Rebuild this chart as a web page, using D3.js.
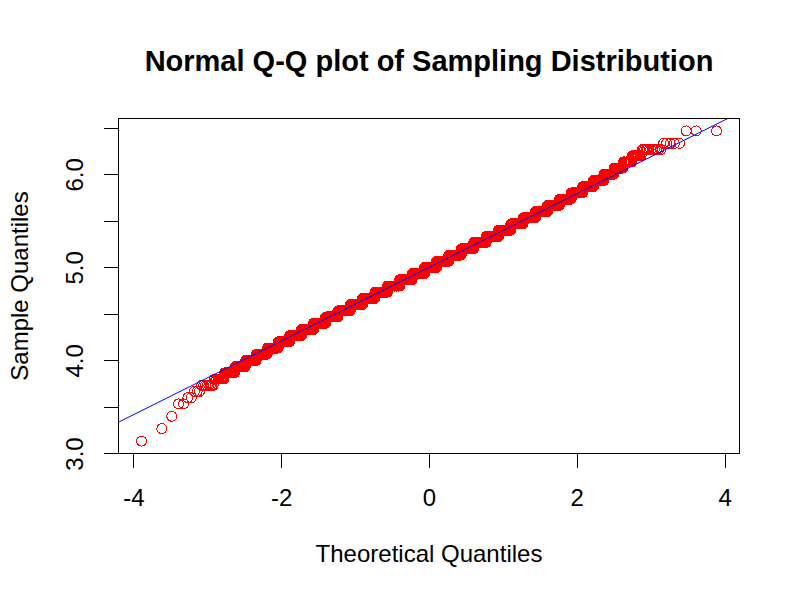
<!DOCTYPE html>
<html>
<head>
<meta charset="utf-8">
<script src="https://cdn.jsdelivr.net/npm/d3@7"></script>
<style>
  html, body { margin: 0; padding: 0; background: #ffffff; }
  svg { display: block; }
  text { font-family: "Liberation Sans", Arial, Helvetica, sans-serif; fill: #000; }
</style>
</head>
<body>
<svg id="chart" width="800" height="600"></svg>
<script>
// ---------------- data ----------------
const titleText = "Normal Q-Q plot of Sampling Distribution";
const xLabel = "Theoretical Quantiles";
const yLabel = "Sample Quantiles";

// distinct sample values (the sampling distribution is discrete, step ~1/15)
const sampleLevels = [
  3.133, 3.267, 3.400, 3.533, 3.600, 3.667, 3.733, 3.800, 3.867, 3.933,
  4.000, 4.067, 4.133, 4.200, 4.267, 4.333, 4.400, 4.467, 4.533, 4.600,
  4.667, 4.733, 4.800, 4.867, 4.933, 5.000, 5.067, 5.133, 5.200, 5.267,
  5.333, 5.400, 5.467, 5.533, 5.600, 5.667, 5.733, 5.800, 5.867, 5.933,
  6.000, 6.067, 6.133, 6.200, 6.267, 6.333, 6.467
];
// how many of the 10000 sample means sit at each level (read from step widths)
const levelCounts = [
  1, 1, 1, 2, 2, 3, 8, 10, 15, 22,
  32, 46, 64, 90, 125, 168, 220, 277, 344, 411,
  480, 544, 596, 635, 655, 660, 648, 625, 587, 529,
  464, 393, 328, 264, 206, 156, 117, 83, 58, 40,
  28, 19, 13, 10, 12, 5, 3
];

const xTicks = [-4, -2, 0, 2, 4];
const xTickLabels = ["-4", "-2", "0", "2", "4"];
const yTicks = [3.0, 3.5, 4.0, 4.5, 5.0, 5.5, 6.0, 6.5];
const yTickLabels = ["3.0", "", "4.0", "", "5.0", "", "6.0", ""];

// ---------------- helpers ----------------
// inverse standard normal CDF (Acklam)
function qnorm(p) {
  const a = [-3.969683028665376e+01, 2.209460984245205e+02, -2.759285104469687e+02,
             1.383577518672690e+02, -3.066479806614716e+01, 2.506628277459239e+00];
  const b = [-5.447609879822406e+01, 1.615858368580409e+02, -1.556989798598866e+02,
             6.680131188771972e+01, -1.328068155288572e+01];
  const c = [-7.784894002430293e-03, -3.223964580411365e-01, -2.400758277161838e+00,
             -2.549732539343734e+00, 4.374664141464968e+00, 2.938163982698783e+00];
  const d = [7.784695709041462e-03, 3.224671290700398e-01, 2.445134137142996e+00,
             3.754408661907416e+00];
  const plow = 0.02425, phigh = 1 - plow;
  let q, r;
  if (p < plow) {
    q = Math.sqrt(-2 * Math.log(p));
    return (((((c[0]*q+c[1])*q+c[2])*q+c[3])*q+c[4])*q+c[5]) /
           ((((d[0]*q+d[1])*q+d[2])*q+d[3])*q+1);
  } else if (p <= phigh) {
    q = p - 0.5; r = q * q;
    return (((((a[0]*r+a[1])*r+a[2])*r+a[3])*r+a[4])*r+a[5])*q /
           (((((b[0]*r+b[1])*r+b[2])*r+b[3])*r+b[4])*r+1);
  } else {
    q = Math.sqrt(-2 * Math.log(1 - p));
    return -(((((c[0]*q+c[1])*q+c[2])*q+c[3])*q+c[4])*q+c[5]) /
            ((((d[0]*q+d[1])*q+d[2])*q+d[3])*q+1);
  }
}

// expand the frequency table into the sorted sample
const sample = [];
sampleLevels.forEach((v, i) => { for (let k = 0; k < levelCounts[i]; k++) sample.push(v); });
const n = sample.length;
const aP = n <= 10 ? 3 / 8 : 0.5;
const points = sample.map((s, i) => ({ t: qnorm((i + 1 - aP) / (n + 1 - 2 * aP)), s: s }));

// ---------------- layout ----------------
const W = 800, H = 600;
const L = 118.5, R = 739.5, T = 118.5, B = 453.5;

const svg = d3.select("#chart");
svg.append("rect").attr("width", W).attr("height", H).attr("fill", "#fff");

function padExtent(ext) { const r = ext[1] - ext[0]; return [ext[0] - 0.04 * r, ext[1] + 0.04 * r]; }
const x = d3.scaleLinear().domain(padExtent(d3.extent(points, d => d.t))).range([L, R]);
const y = d3.scaleLinear().domain(padExtent(d3.extent(points, d => d.s))).range([B, T]);

svg.append("defs").append("clipPath").attr("id", "plotclip")
  .append("rect").attr("x", L).attr("y", T).attr("width", R - L).attr("height", B - T);

// points
svg.append("g")
  .selectAll("circle").data(points).join("circle")
  .attr("cx", d => x(d.t)).attr("cy", d => y(d.s)).attr("r", 5)
  .attr("fill", "none").attr("stroke", "#ff0000").attr("stroke-width", 1)
  .attr("shape-rendering", "crispEdges");

// qq line through the quartiles
const sortedS = points.map(d => d.s);
const q1 = d3.quantileSorted(sortedS, 0.25), q3 = d3.quantileSorted(sortedS, 0.75);
const z1 = qnorm(0.25), z3 = qnorm(0.75);
const slope = (q3 - q1) / (z3 - z1), intercept = q1 - slope * z1;
const xd = x.domain();
svg.append("line")
  .attr("clip-path", "url(#plotclip)")
  .attr("x1", x(xd[0])).attr("y1", y(intercept + slope * xd[0]))
  .attr("x2", x(xd[1])).attr("y2", y(intercept + slope * xd[1]))
  .attr("stroke", "#0000ff").attr("stroke-width", 1);

// box
svg.append("rect").attr("x", L).attr("y", T).attr("width", R - L).attr("height", B - T)
  .attr("fill", "none").attr("stroke", "#000").attr("stroke-width", 1)
  .attr("shape-rendering", "crispEdges");

// x axis
const gx = svg.append("g").attr("transform", `translate(0,${B})`)
  .call(d3.axisBottom(x).tickValues(xTicks).tickSize(14.4)
        .tickFormat((d, i) => xTickLabels[i]));
gx.select(".domain").remove();
gx.attr("font-size", 24).attr("font-family", "'Liberation Sans', Arial, sans-serif");
gx.selectAll(".tick line").attr("stroke", "#000").attr("shape-rendering", "crispEdges");
gx.selectAll(".tick text").attr("y", 52).attr("dy", null).attr("fill", "#000");

// y axis
const gy = svg.append("g").attr("transform", `translate(${L},0)`)
  .call(d3.axisLeft(y).tickValues(yTicks).tickSize(14.4)
        .tickFormat((d, i) => yTickLabels[i]));
gy.select(".domain").remove();
gy.attr("font-size", 24).attr("font-family", "'Liberation Sans', Arial, sans-serif");
gy.selectAll(".tick line").attr("stroke", "#000").attr("shape-rendering", "crispEdges");
gy.selectAll(".tick text")
  .attr("x", 0).attr("dy", null).attr("text-anchor", "middle")
  .attr("transform", "translate(-36,0) rotate(-90)").attr("fill", "#000");

// titles
svg.append("text").attr("x", (L + R) / 2).attr("y", 71)
  .attr("text-anchor", "middle").attr("font-size", 29).attr("font-weight", "bold")
  .text(titleText);
svg.append("text").attr("x", (L + R) / 2).attr("y", 562)
  .attr("text-anchor", "middle").attr("font-size", 24).text(xLabel);
svg.append("text").attr("transform", `translate(28,${(T + B) / 2}) rotate(-90)`)
  .attr("text-anchor", "middle").attr("font-size", 24).text(yLabel);
</script>
</body>
</html>
